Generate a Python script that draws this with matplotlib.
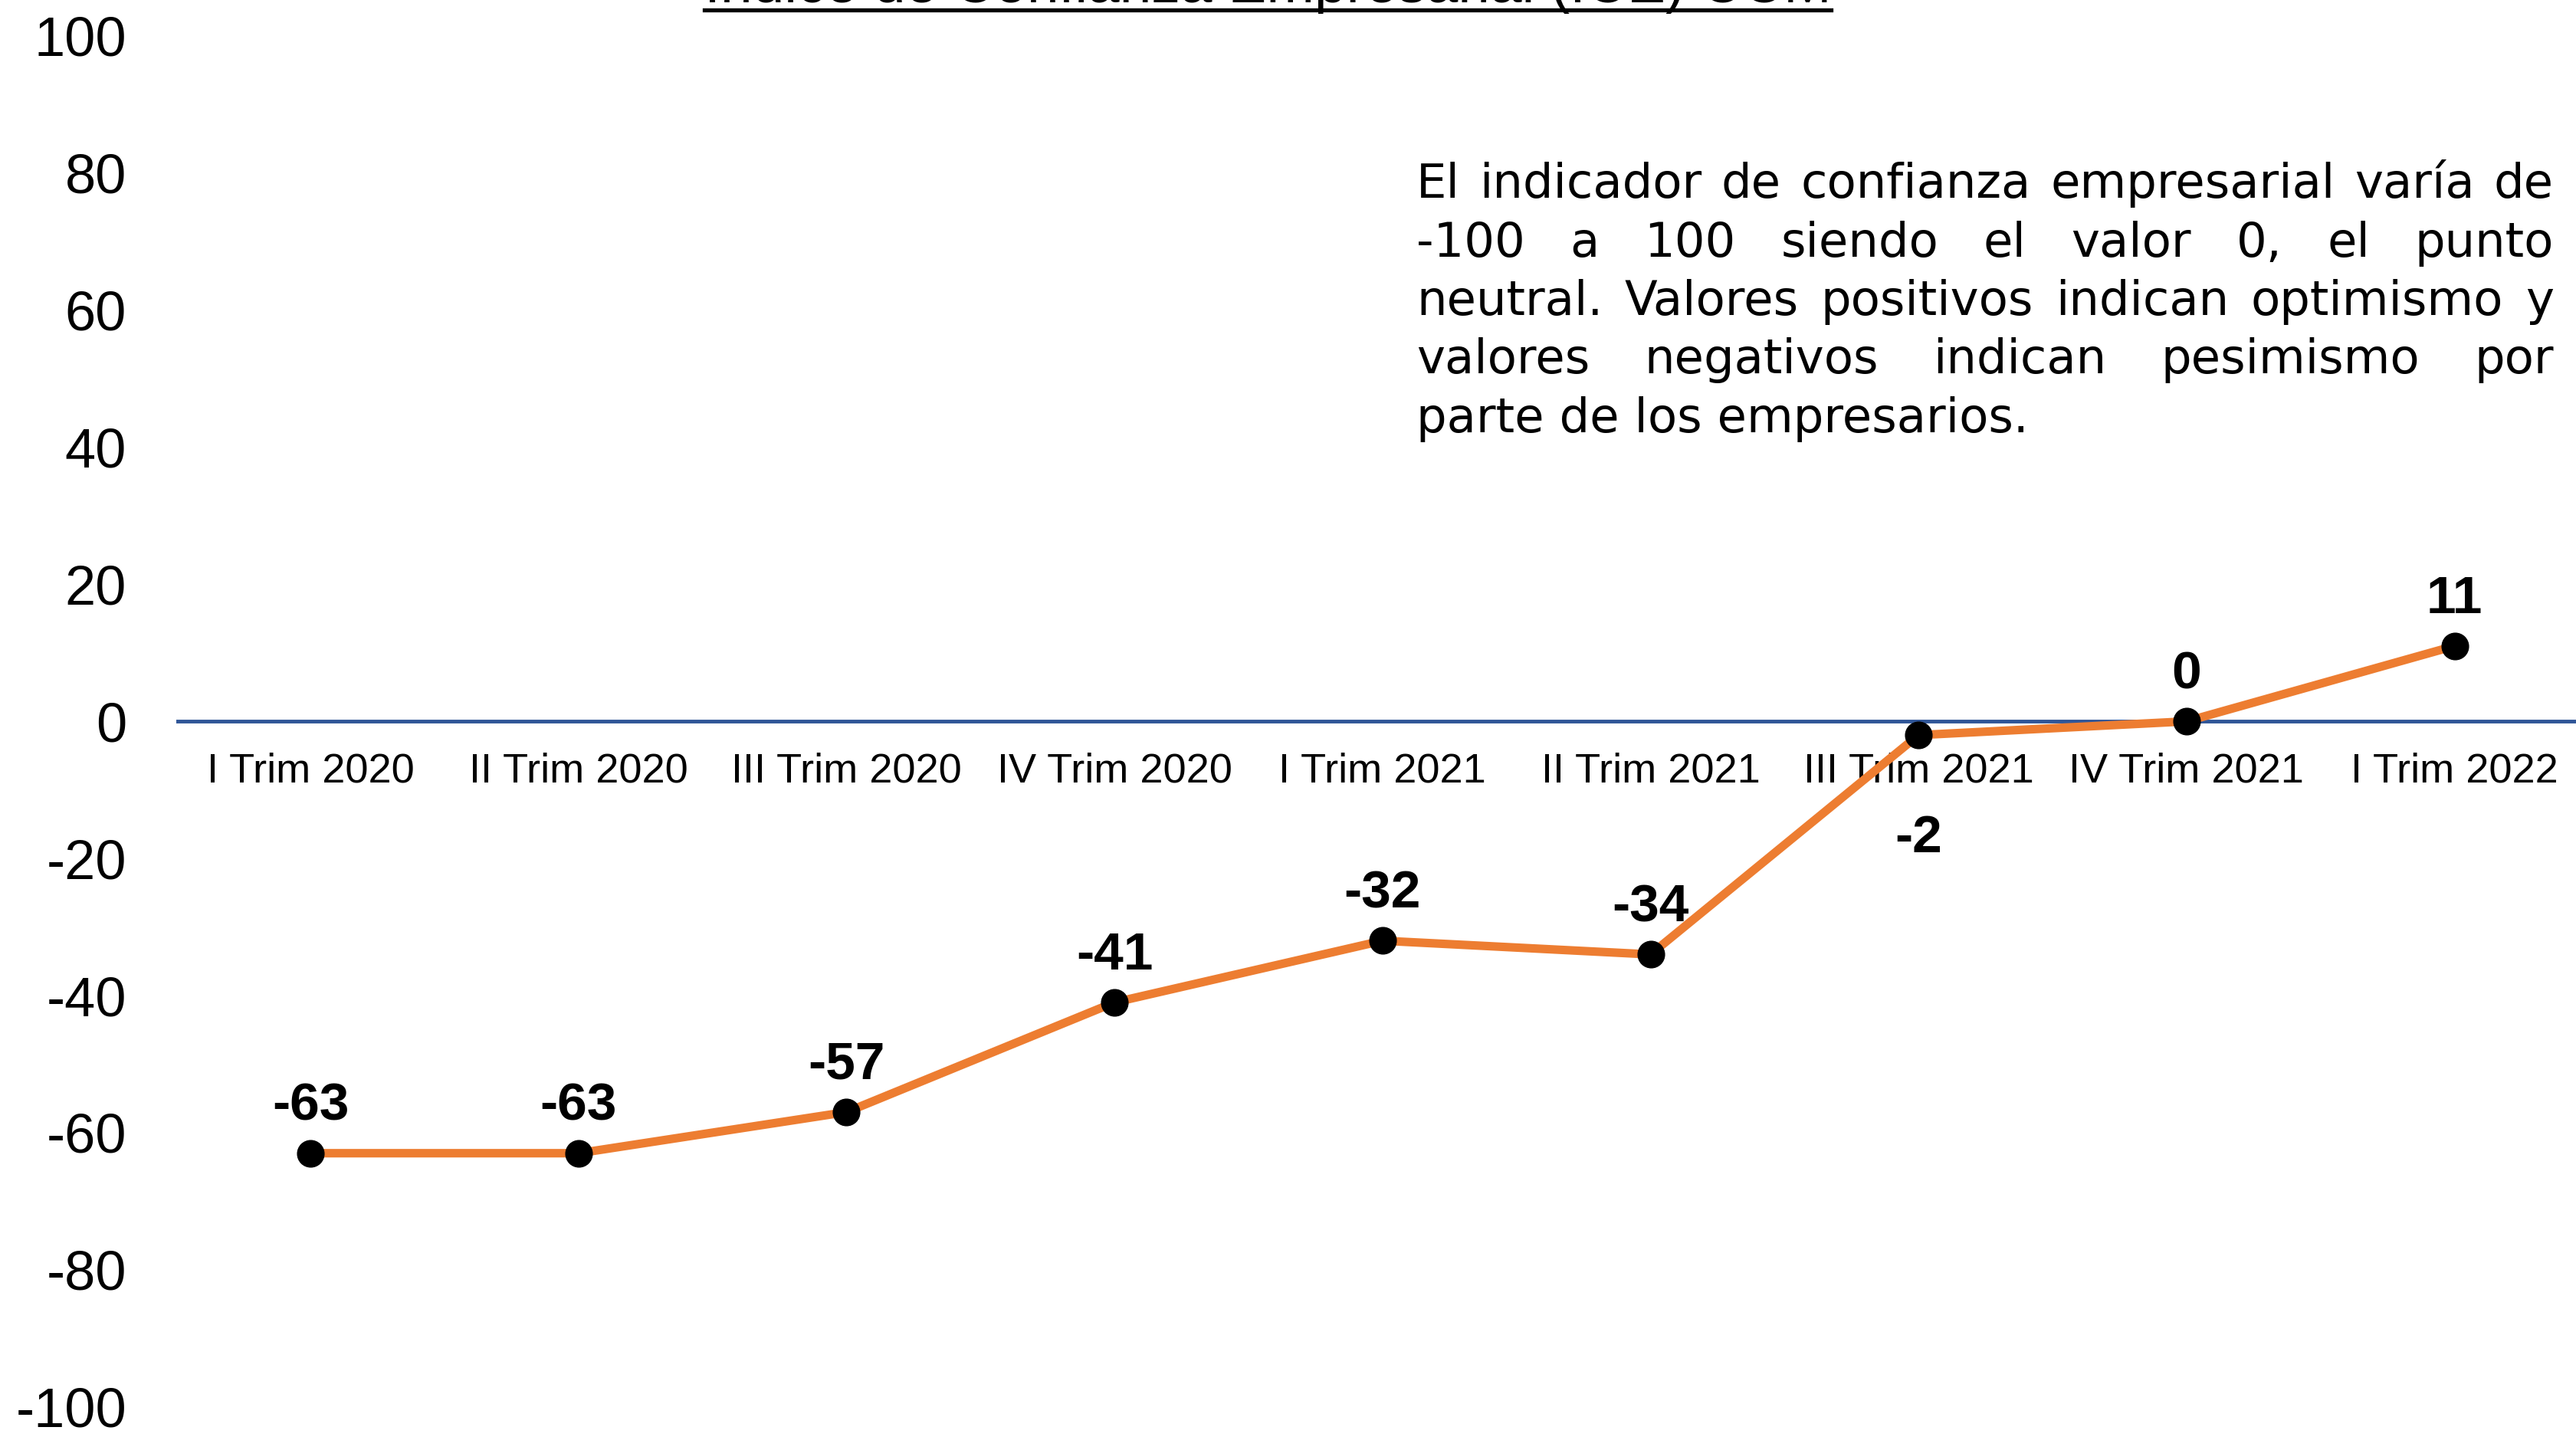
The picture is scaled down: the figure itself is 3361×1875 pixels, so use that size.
import matplotlib
matplotlib.use('Agg')
import matplotlib.pyplot as plt
from matplotlib.lines import Line2D

# Índice de Confianza Empresarial por trimestre
trimestres = ['I Trim 2020', 'II Trim 2020', 'III Trim 2020', 'IV Trim 2020',
              'I Trim 2021', 'II Trim 2021', 'III Trim 2021', 'IV Trim 2021',
              'I Trim 2022']
ice = [-63, -63, -57, -41, -32, -34, -2, 0, 11]
y_ticks = list(range(-100, 101, 20))

titulo = 'Índice de Confianza Empresarial (ICE) CCM'
nota = ['El indicador de confianza empresarial varía de',
        '-100 a 100 siendo el valor 0, el punto',
        'neutral. Valores positivos indican optimismo y',
        'valores negativos indican pesimismo por',
        'parte de los empresarios.']

plt.rcParams['font.family'] = ['Liberation Sans', 'DejaVu Sans']
plt.rcParams['axes.unicode_minus'] = False

W, H = 3362, 1875
fig = plt.figure(figsize=(W / 100, H / 100), dpi=100)
ax = fig.add_axes([0.0685, 0.021, 0.9315, 0.954])
ax.set_xlim(-0.5, 8.456)
ax.set_ylim(-100, 100)
for s in ax.spines.values():
    s.set_visible(False)

ax.axhline(0, color='#2F5597', lw=3.5, zorder=1)
xs = list(range(len(ice)))
ax.plot(xs, ice, color='#ED7D31', lw=8, marker='o', ms=25,
        mfc='black', mec='black', zorder=3, clip_on=False)

ax.set_xticks([])
ax.set_yticks(y_ticks)
ax.tick_params(axis='y', length=0, labelsize=52, pad=47)

# etiquetas de categoría pegadas a la línea del cero
for i, lab in enumerate(trimestres):
    ax.annotate(lab, (i, 0), xytext=(0, -47), textcoords='offset points',
                ha='center', va='center', fontsize=39, zorder=2)

# etiquetas de valor
for i, v in enumerate(ice):
    dy = -97 if trimestres[i] == 'III Trim 2021' else 44
    ax.annotate(f'{v}', (i, v), xytext=(0, dy), textcoords='offset points',
                ha='center', va='center', fontsize=50, fontweight='bold', zorder=4)

# título subrayado (queda cortado arriba)
r = fig.canvas.get_renderer()
t = fig.text(0.492, 1 - 3 / H, titulo, ha='center', va='baseline', fontsize=54)
bb = t.get_window_extent(r)
fig.add_artist(Line2D([bb.x0 / W, bb.x1 / W], [1 - 13 / H, 1 - 13 / H],
                      color='black', lw=3.8))


def justificado(lineas, x0, x1, y0, paso, **kw):
    for k, linea in enumerate(lineas):
        y = (H - (y0 + k * paso)) / H
        if k == len(lineas) - 1:
            fig.text(x0 / W, y, linea, va='baseline', ha='left', **kw)
            continue
        palabras = linea.split()
        textos = [fig.text(0, y, p, va='baseline', ha='left', **kw) for p in palabras]
        anchos = [tx.get_window_extent(r).width for tx in textos]
        hueco = (x1 - x0 - sum(anchos)) / (len(palabras) - 1)
        pos = x0
        for tx, a in zip(textos, anchos):
            tx.set_x(pos / W)
            pos += a + hueco


justificado(nota, 1848, 3332, 258, 76.5, fontsize=45, family='DejaVu Sans')

fig.savefig('out.png', dpi=100, facecolor='white')
